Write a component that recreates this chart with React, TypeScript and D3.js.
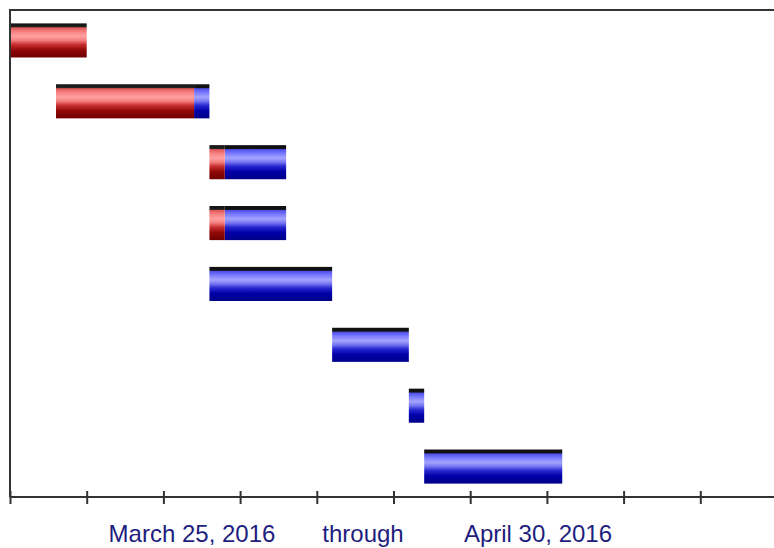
import React, { useEffect, useRef } from 'react';
import * as d3 from 'd3';

// tasks, top to bottom
const tasks = ['T1', 'T2', 'T3', 'T4', 'T5', 'T6', 'T7', 'T8'];
const taskStart = ['2016-03-25', '2016-03-28', '2016-04-07', '2016-04-07', '2016-04-07', '2016-04-15', '2016-04-20', '2016-04-21'];
const taskDone = ['2016-03-30', '2016-04-06', '2016-04-08', '2016-04-08', '2016-04-07', '2016-04-15', '2016-04-20', '2016-04-21'];
const taskEnd = ['2016-03-30', '2016-04-07', '2016-04-12', '2016-04-12', '2016-04-15', '2016-04-20', '2016-04-21', '2016-04-30'];
const footerLabels = ['March 25, 2016', 'through', 'April 30, 2016'];
const domainStart = '2016-03-25';
const domainEnd = '2016-05-14';
const tickStepDays = 5;

const W = 774;
const H = 548;

export default function App() {
  const svgRef = useRef<SVGSVGElement>(null);

  useEffect(() => {
    const svg = d3.select(svgRef.current);
    svg.selectAll('*').remove();

    const parse = d3.utcParse('%Y-%m-%d');
    const left = 10, top = 10, bottom = 497, right = 777;
    const d0 = parse(domainStart)!, d1 = parse(domainEnd)!;

    const x = d3.scaleUtc().domain([d0, d1]).range([left, right]);
    const y = d3.scaleBand().domain(tasks).range([top, bottom]).paddingInner(0.44).paddingOuter(0.22);

    // gradients for the shaded bars
    const defs = svg.append('defs');
    const grads: Record<string, [number, string][]> = {
      red: [[0, '#111'], [0.1, '#222'], [0.13, '#e05858'], [0.25, '#f88484'], [0.38, '#ffa0a0'], [0.5, '#f27c7c'], [0.62, '#c83030'], [0.78, '#900808'], [1, '#700000']],
      blue: [[0, '#111'], [0.1, '#111'], [0.13, '#5050e8'], [0.25, '#7c7cff'], [0.38, '#a4a4ff'], [0.5, '#7474f2'], [0.62, '#2828d0'], [0.78, '#0000a8'], [1, '#000088']],
    };
    Object.entries(grads).forEach(([name, stops]) => {
      const g = defs.append('linearGradient').attr('id', 'g-' + name).attr('x1', 0).attr('x2', 0).attr('y1', 0).attr('y2', 1);
      stops.forEach(([o, c]) => g.append('stop').attr('offset', o).attr('stop-color', c));
    });

    const rows = tasks.map((t, i) => ({
      t,
      s: parse(taskStart[i])!,
      d: parse(taskDone[i])!,
      e: parse(taskEnd[i])!,
    }));

    // blue = remaining part
    svg.append('g').selectAll('rect').data(rows.filter((r) => +r.e > +r.d)).join('rect')
      .attr('x', (r) => x(r.d))
      .attr('y', (r) => y(r.t)!)
      .attr('width', (r) => x(r.e) - x(r.d))
      .attr('height', y.bandwidth())
      .attr('fill', 'url(#g-blue)');

    // red = completed part
    svg.append('g').selectAll('rect').data(rows.filter((r) => +r.d > +r.s)).join('rect')
      .attr('x', (r) => x(r.s))
      .attr('y', (r) => y(r.t)!)
      .attr('width', (r) => x(r.d) - x(r.s))
      .attr('height', y.bandwidth())
      .attr('fill', 'url(#g-red)');

    // frame
    svg.append('path')
      .attr('d', `M${left},${bottom}V${top}H${W}`)
      .attr('stroke', '#333').attr('stroke-width', 2).attr('fill', 'none');

    const tickVals = d3.utcDay.range(d0, d3.utcDay.offset(d1, 1), tickStepDays);
    const axis = d3.axisBottom(x).tickValues(tickVals).tickSize(7).tickFormat(() => '');
    const ax = svg.append('g').attr('transform', `translate(0,${bottom})`).call(axis as any);
    ax.select('.domain').attr('stroke', '#333').attr('stroke-width', 2).attr('d', `M${left},0H${W}`);
    ax.selectAll('.tick line').attr('stroke', '#333').attr('stroke-width', 2).attr('y1', -6).attr('y2', 7);

    const labelX = [192, 363, 538];
    svg.append('g').selectAll('text').data(footerLabels).join('text')
      .attr('x', (_, i) => labelX[i])
      .attr('y', 542)
      .attr('text-anchor', 'middle')
      .attr('font-family', 'Liberation Sans, Arial, sans-serif')
      .attr('font-size', 24)
      .attr('fill', '#1e1e7e')
      .text((d) => d);
  }, []);

  return (
    <svg ref={svgRef} width={W} height={H} style={{ position: 'absolute', left: 0, top: 0, background: '#fff' }} />
  );
}
